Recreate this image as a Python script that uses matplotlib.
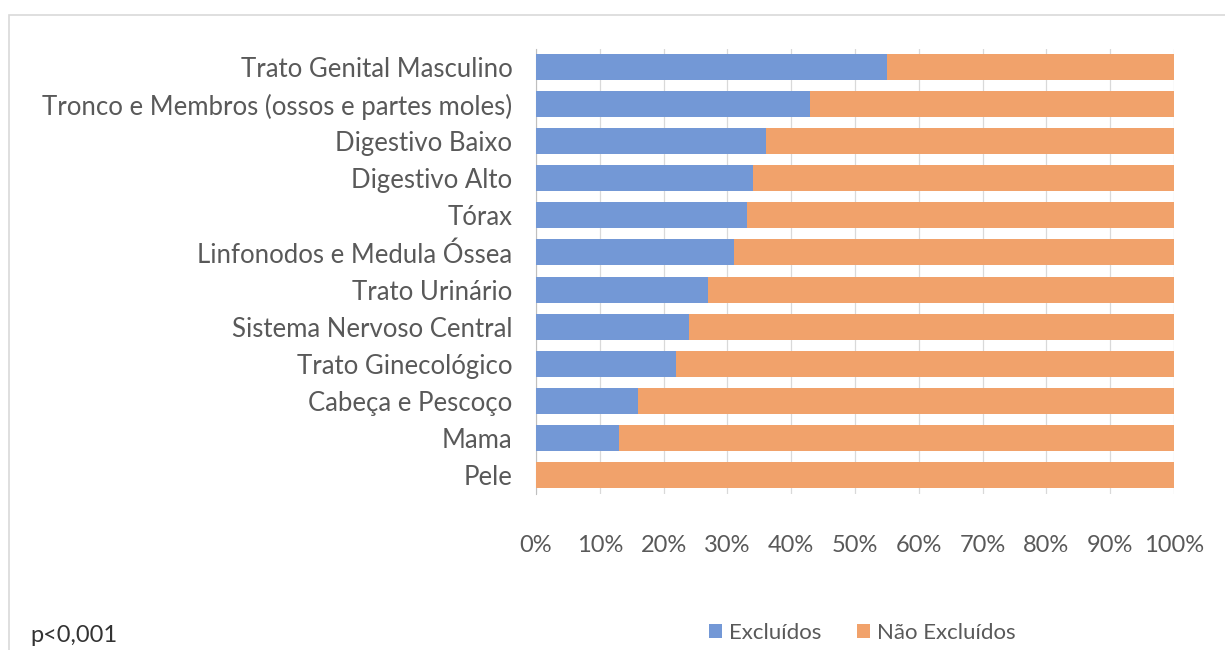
import matplotlib
matplotlib.use("Agg")
import matplotlib.pyplot as plt
from matplotlib.patches import Rectangle
from matplotlib.ticker import FuncFormatter

categories = [
    "Trato Genital Masculino",
    "Tronco e Membros (ossos e partes moles)",
    "Digestivo Baixo",
    "Digestivo Alto",
    "Tórax",
    "Linfonodos e Medula Óssea",
    "Trato Urinário",
    "Sistema Nervoso Central",
    "Trato Ginecológico",
    "Cabeça e Pescoço",
    "Mama",
    "Pele",
]
excluidos = [55, 43, 36, 34, 33, 31, 27, 24, 22, 16, 13, 0]
nao_excluidos = [100 - v for v in excluidos]
xticks = [0, 10, 20, 30, 40, 50, 60, 70, 80, 90, 100]

BLUE = "#7398d6"
ORANGE = "#f1a26b"
TEXT = "#595959"

plt.rcParams["font.family"] = ["Lato", "DejaVu Sans"]

fig = plt.figure(figsize=(12.25, 6.5), dpi=100)
W, H = 1225, 650
ax = fig.add_axes([536 / W, 1 - 493.5 / H, (1174 - 536) / W, (493.5 - 48.5) / H])

y = list(range(len(categories)))
ax.barh(y, excluidos, height=0.7, color=BLUE, label="Excluídos", zorder=3)
ax.barh(y, nao_excluidos, left=excluidos, height=0.7, color=ORANGE,
        label="Não Excluídos", zorder=3)

ax.set_ylim(len(categories) - 0.5, -0.5)
ax.set_xlim(0, 100)
ax.set_yticks(y)
ax.set_yticklabels(categories, fontsize=18.5, color=TEXT)
ax.set_xticks(xticks)
ax.xaxis.set_major_formatter(FuncFormatter(lambda v, p: f"{v:.0f}%"))
ax.tick_params(axis="x", labelsize=17, labelcolor=TEXT, length=0, pad=30)
ax.tick_params(axis="y", length=0, pad=17)
ax.grid(axis="x", color="#d9d9d9", linewidth=0.9, zorder=0)
for side in ("top", "right", "bottom"):
    ax.spines[side].set_visible(False)
ax.spines["left"].set_color("#bfbfbf")

# outer chart frame
fig.patches.append(Rectangle((9 / W, -0.1), 1.2, 1 - 15 / H + 0.1,
                             transform=fig.transFigure, fill=False,
                             edgecolor="#d9d9d9", linewidth=1.2))

fig.text(30 / W, 1 - 636 / H, "p<0,001", fontsize=17, color="#333333",
         va="center", ha="left")

handles, labels = ax.get_legend_handles_labels()
fig.legend(handles, labels, loc="center", bbox_to_anchor=(862 / W, 1 - 633 / H),
           ncol=2, frameon=False, fontsize=16, labelcolor=TEXT,
           handlelength=0.6, handleheight=0.6, handletextpad=0.3,
           columnspacing=1.6)

fig.savefig("out.png", dpi=100, facecolor="white")
